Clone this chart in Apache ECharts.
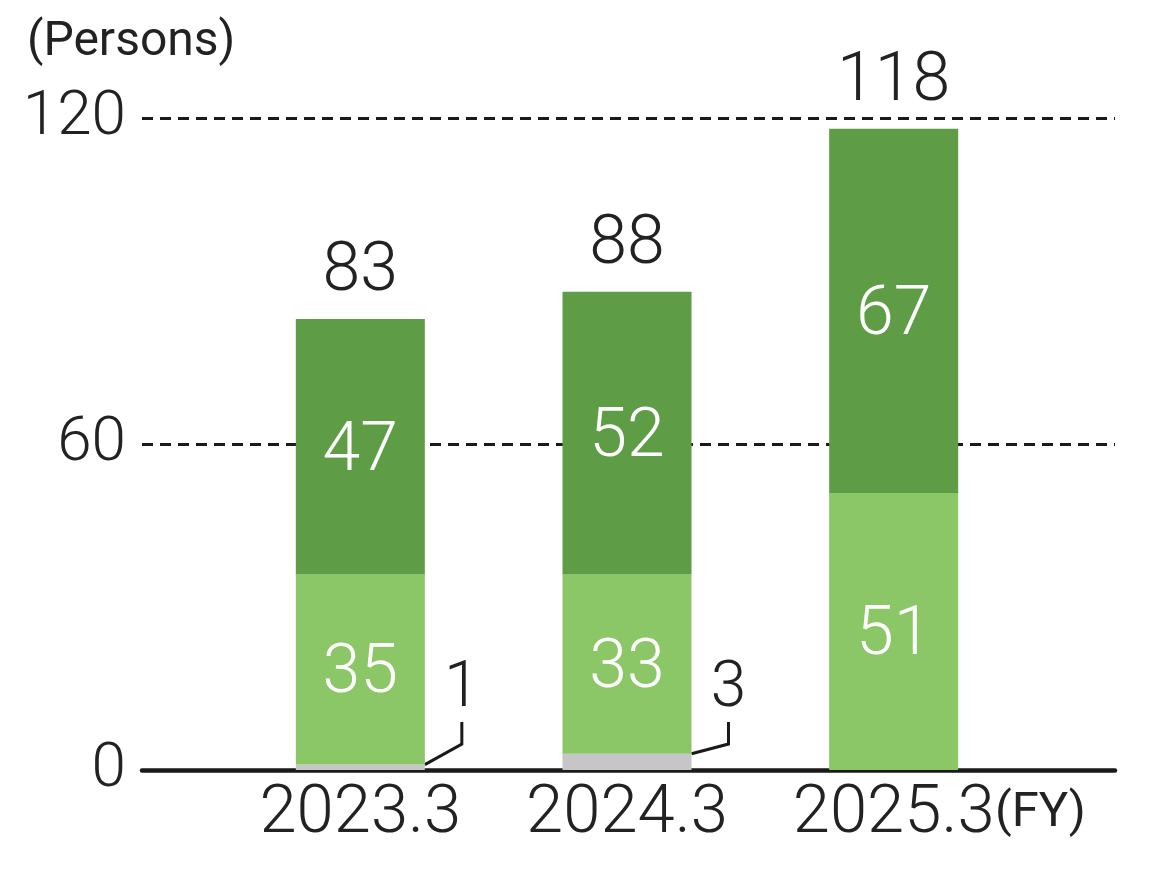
<!DOCTYPE html>
<html>
<head>
<meta charset="utf-8">
<script src="https://cdn.jsdelivr.net/npm/echarts@6/dist/echarts.min.js"></script>
<style>
  html, body { margin: 0; padding: 0; background: #fff; }
  #chart { width: 1160px; height: 880px; }
</style>
</head>
<body>
<div id="chart"></div>
<script>
const categories = ["2023.3", "2024.3", "2025.3"];
const grayValues = [1, 3, 0];
const lightValues = [35, 33, 51];
const darkValues = [47, 52, 67];
const yTicks = [0, 60, 120];

const FONT = "Roboto";
const totals = categories.map((c, i) => grayValues[i] + lightValues[i] + darkValues[i]);

const chart = echarts.init(document.getElementById("chart"));

chart.setOption({
  backgroundColor: "#fff",
  animation: false,
  title: {
    text: "(Persons)",
    left: 22,
    top: 14,
    textStyle: { fontFamily: FONT, fontSize: 48, fontWeight: 400, color: "#222" }
  },
  grid: [
    // full width grid: dashed lines and base line
    { left: 142, right: 45, top: 118, bottom: 110 },
    // bars
    { left: 227, right: 133, top: 118, bottom: 110 }
  ],
  xAxis: [
    {
      gridIndex: 0, type: "category", data: [""],
      axisLine: { lineStyle: { color: "#1a1a1a", width: 4.5 } },
      axisTick: { show: false }, axisLabel: { show: false }
    },
    {
      gridIndex: 1, type: "category", data: categories,
      axisLine: { show: false }, axisTick: { show: false },
      axisLabel: {
        margin: 12, color: "#222", fontFamily: FONT, fontSize: 67, fontWeight: 300
      }
    }
  ],
  yAxis: [
    {
      gridIndex: 0, type: "value", min: 0, max: 120, interval: 60,
      axisLine: { show: false }, axisTick: { show: false },
      axisLabel: {
        margin: 16, color: "#222", fontFamily: FONT, fontSize: 62, fontWeight: 300,
        formatter: v => (yTicks.indexOf(v) >= 0 ? String(v) : "")
      },
      splitLine: { lineStyle: { color: "#1a1a1a", width: 3, type: [11, 7] } }
    },
    {
      gridIndex: 1, type: "value", min: 0, max: 120, show: false,
      splitLine: { show: false }
    }
  ],
  graphic: [
    {
      type: "text", left: 995, top: 789,
      style: { text: "(FY)", fontFamily: FONT, fontSize: 49, fill: "#222" }
    }
  ],
  series: [
    {
      name: "other", type: "bar", stack: "total", xAxisIndex: 1, yAxisIndex: 1,
      barWidth: 129, itemStyle: { color: "#c6c6c8" },
      data: grayValues.map(v => ({
        value: v,
        label: { show: v > 0 },
        labelLine: { show: v > 0 }
      })),
      label: {
        show: true, position: "right", color: "#222",
        fontFamily: FONT, fontSize: 64, fontWeight: 300
      },
      labelLayout: p => ({
        x: p.rect.x + p.rect.width + 37,
        y: p.rect.y + p.rect.height - 80,
        align: "center", verticalAlign: "middle"
      }),
      labelLine: { show: true, length2: 22, lineStyle: { color: "#1a1a1a", width: 3 } }
    },
    {
      name: "light", type: "bar", stack: "total", xAxisIndex: 1, yAxisIndex: 1,
      barWidth: 129, itemStyle: { color: "#8bc766" },
      data: lightValues,
      label: {
        show: true, position: "inside", offset: [0, 6], color: "#fff",
        fontFamily: FONT, fontSize: 68, fontWeight: 300
      }
    },
    {
      name: "dark", type: "bar", stack: "total", xAxisIndex: 1, yAxisIndex: 1,
      barWidth: 129, itemStyle: { color: "#5e9d45" },
      data: darkValues,
      label: {
        show: true, position: "inside", offset: [0, 6], color: "#fff",
        fontFamily: FONT, fontSize: 68, fontWeight: 300
      }
    },
    {
      name: "total", type: "bar", stack: "total", xAxisIndex: 1, yAxisIndex: 1,
      barWidth: 129, itemStyle: { color: "transparent" },
      data: totals.map(() => 0),
      label: {
        show: true, position: "top", distance: 12, color: "#222",
        fontFamily: FONT, fontSize: 68, fontWeight: 300,
        formatter: p => String(totals[p.dataIndex])
      }
    }
  ]
});
</script>
</body>
</html>
